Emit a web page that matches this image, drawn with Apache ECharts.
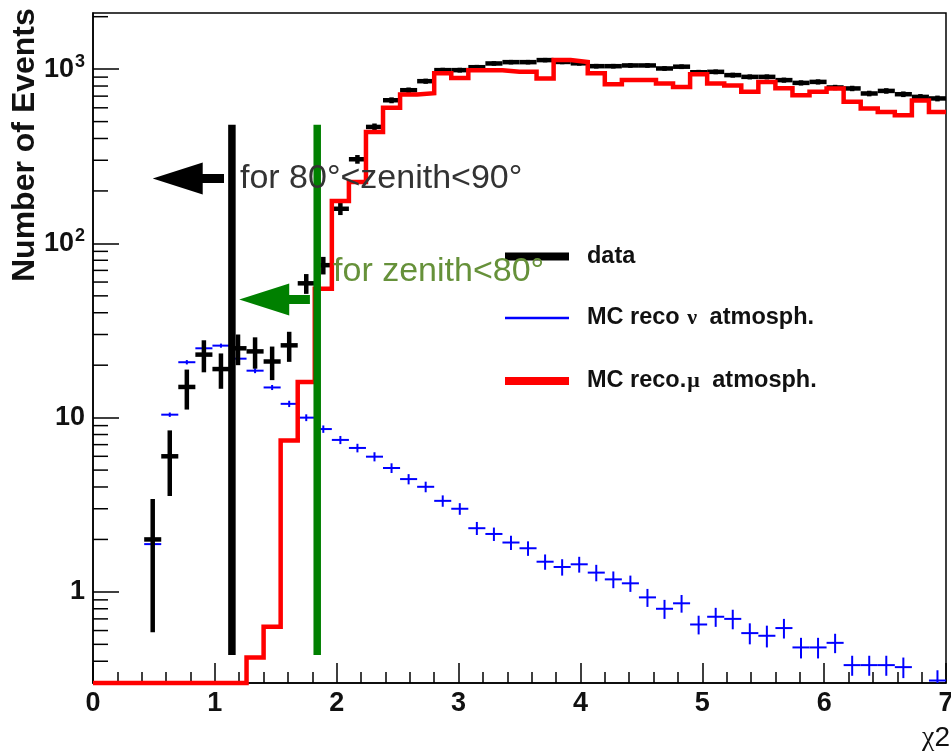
<!DOCTYPE html>
<html>
<head>
<meta charset="utf-8">
<script src="https://cdn.jsdelivr.net/npm/echarts@6/dist/echarts.min.js"></script>
<style>
html, body { margin: 0; padding: 0; background: #fff; }
#chart { width: 951px; height: 753px; }
</style>
</head>
<body>
<div id="chart"></div>
<script>
// Histogram binning: 50 bins of width 0.14 over chi2 in [0, 7]
const X_MIN = 0, X_MAX = 7, BIN_WIDTH = 0.14;
const Y_MIN = 0.3, Y_MAX = 2100;

// Observed events per bin
const dataCounts = [0, 0, 0, 2, 6, 15, 23, 19, 25, 24,
  21, 26, 59, 75, 158, 304, 466, 663, 757, 853,
  987, 987, 1026, 1078, 1097, 1097, 1127, 1100, 1080, 1040,
  1040, 1050, 1050, 1009, 1033, 960, 965, 924, 903, 903,
  865, 834, 845, 785, 775, 725, 750, 718, 693, 679];

// MC reconstructed atmospheric neutrinos per bin, with MC errors
const nuCounts = [0, 0, 0, 1.88, 10.4, 20.8, 25, 25.9, 21.8, 18.6,
  14.9, 12, 10, 8.6, 7.45, 6.7, 5.97, 5.14, 4.44, 4.01,
  3.33, 3.0, 2.32, 2.15, 1.92, 1.78, 1.49, 1.39, 1.44, 1.29,
  1.18, 1.12, 0.93, 0.80, 0.86, 0.65, 0.72, 0.70, 0.58, 0.56,
  0.62, 0.48, 0.48, 0.51, 0.38, 0.38, 0.38, 0.37, 0, 0.31];
const nuErrors = [0, 0, 0, 0.08, 0.3, 0.6, 0.7, 0.7, 0.6, 0.6,
  0.5, 0.5, 0.45, 0.42, 0.4, 0.38, 0.36, 0.33, 0.3, 0.28,
  0.25, 0.23, 0.2, 0.19, 0.18, 0.17, 0.15, 0.15, 0.15, 0.14,
  0.13, 0.12, 0.11, 0.1, 0.1, 0.08, 0.09, 0.09, 0.08, 0.08,
  0.08, 0.065, 0.065, 0.065, 0.05, 0.05, 0.05, 0.05, 0, 0.045];

// MC reconstructed atmospheric muons per bin
const muCounts = [0, 0, 0, 0, 0, 0, 0, 0, 0, 0.42,
  0.63, 7.4, 16, 55, 175, 225, 436, 600, 715, 728,
  948, 891, 985, 985, 965, 965, 885, 1127, 1100, 948,
  820, 865, 865, 828, 791, 936, 828, 805, 741, 845,
  778, 709, 741, 775, 649, 594, 568, 544, 660, 568];

// Log-axis tick values
const yMajorTicks = [1, 10, 100, 1000];
const yMajorLabels = ['1', '10', '10{sup|2}', '10{sup|3}'];
const yMinorTicks = [0.4, 0.5, 0.6, 0.7, 0.8, 0.9,
  2, 3, 4, 5, 6, 7, 8, 9,
  20, 30, 40, 50, 60, 70, 80, 90,
  200, 300, 400, 500, 600, 700, 800, 900, 2000];

// Zenith-dependent chi2 cuts: [chi2 cut, line bottom, line top]
const cutLines = [[1.14, 0.435, 480], [1.84, 0.435, 480]];
// Arrows: [tip chi2, tail chi2, height]
const cutArrows = [[0.49, 1.075, 236], [1.2, 1.78, 47.7]];
// Cut captions: [chi2, height]
const cutCaptions = [[1.206, 236], [1.97, 69]];
const cutCaptionTexts = ['for 80°<zenith<90°', 'for zenith<80°'];

const SERIES_DATA = 'data';
const SERIES_NU = 'MC reco ν atmosph.';
const SERIES_MU = 'MC reco.μ atmosph.';

const FONT = '"Liberation Sans", Arial, Helvetica, sans-serif';
const cutColors = ['#000000', '#008000'];
const captionColors = ['#333333', '#66913a'];

const binCenters = dataCounts.map((_, i) => +(X_MIN + (i + 0.5) * BIN_WIDTH).toFixed(4));

function crossSeries(name, counts, errors, color, width, z) {
  return {
    type: 'custom',
    name: name,
    z: z,
    itemStyle: { color: color },
    data: counts.map((v, i) => [binCenters[i], v, errors[i]]).filter(d => d[1] > 0),
    renderItem: function (params, api) {
      const xc = api.value(0), v = api.value(1), e = api.value(2);
      const left = api.coord([xc - BIN_WIDTH / 2, v]);
      const right = api.coord([xc + BIN_WIDTH / 2, v]);
      const top = api.coord([xc, v + e]);
      const bottom = api.coord([xc, Math.max(v - e, Y_MIN)]);
      return {
        type: 'group',
        children: [
          { type: 'line', shape: { x1: left[0], y1: left[1], x2: right[0], y2: right[1] },
            style: { stroke: color, lineWidth: width } },
          { type: 'line', shape: { x1: top[0], y1: top[1], x2: bottom[0], y2: bottom[1] },
            style: { stroke: color, lineWidth: width } }
        ]
      };
    }
  };
}

// Poisson errors on the observed counts
const dataErrors = dataCounts.map(n => Math.sqrt(n));

// Step outline of the muon histogram (bins at zero sit on the frame)
const muStep = muCounts.map((v, i) => [+(X_MIN + i * BIN_WIDTH).toFixed(4), Math.max(v, Y_MIN)]);
muStep.push([X_MAX, Math.max(muCounts[muCounts.length - 1], Y_MIN)]);

const LEGEND_LINE = 24;
function legendBlock(name, center, height) {
  return {
    data: [name],
    left: 505,
    top: center - LEGEND_LINE / 2,
    orient: 'vertical',
    icon: 'rect',
    itemWidth: 64,
    itemHeight: height,
    selectedMode: false,
    padding: 0,
    formatter: function (n) {
      return n.replace('ν', '{g|ν}').replace('μ', '{g|μ}');
    },
    textStyle: {
      fontFamily: FONT, fontSize: 23.5, fontWeight: 'bold', color: '#111',
      lineHeight: LEGEND_LINE,
      padding: [0, 0, 0, 13],
      rich: { g: { fontFamily: '"Liberation Serif", "DejaVu Serif", serif', fontSize: 22, lineHeight: LEGEND_LINE,
        color: '#111', padding: [0, 6, 0, 1] } }
    }
  };
}

const chart = echarts.init(document.getElementById('chart'), null, { renderer: 'canvas' });

chart.setOption({
  animation: false,
  backgroundColor: '#ffffff',
  grid: { left: 93, right: 5, top: 13, bottom: 70, outerBoundsMode: 'none', containLabel: false,
    show: true, borderColor: '#000', borderWidth: 1.5, backgroundColor: 'transparent' },
  legend: [
    legendBlock(SERIES_DATA, 256.5, 8),
    legendBlock(SERIES_NU, 318, 2.5),
    legendBlock(SERIES_MU, 381, 8)
  ],
  xAxis: {
    type: 'value', min: X_MIN, max: X_MAX, interval: 1,
    axisLine: { show: true, onZero: false, lineStyle: { color: '#000', width: 1.5 } },
    axisTick: { show: true, inside: true, length: 20, lineStyle: { color: '#000', width: 1.5 } },
    minorTick: { show: true, splitNumber: 5, length: 11, lineStyle: { color: '#000', width: 1.5 } },
    splitLine: { show: false },
    axisLabel: { margin: 7, fontFamily: FONT, fontSize: 27, fontWeight: 'bold', color: '#111' }
  },
  yAxis: {
    type: 'log', logBase: 10, min: Y_MIN, max: Y_MAX,
    axisLine: { show: true, lineStyle: { color: '#000', width: 1.5 } },
    axisTick: { show: true, inside: true, length: 26, lineStyle: { color: '#000', width: 1.5 } },
    splitLine: { show: false },
    axisLabel: {
      margin: 8, fontFamily: FONT, fontSize: 27, fontWeight: 'bold', color: '#111',
      showMinLabel: false, showMaxLabel: false,
      formatter: function (value) {
        for (let i = 0; i < yMajorTicks.length; i++) {
          if (Math.abs(value - yMajorTicks[i]) < 1e-6 * yMajorTicks[i]) return yMajorLabels[i];
        }
        return '';
      },
      rich: {
        sup: { fontFamily: FONT, fontSize: 18, fontWeight: 'bold', color: '#111', verticalAlign: 'top', padding: [0, 0, 14, 1] }
      }
    }
  },
  graphic: [
    { type: 'text', x: 25, y: 282, rotation: Math.PI / 2,
      style: { text: 'Number of Events', fill: '#111', font: 'bold 32px ' + FONT, align: 'left', verticalAlign: 'middle' } },
    { type: 'text', x: 950, y: 738,
      style: { text: '{g|χ}2', fill: '#111', font: '28px ' + FONT, align: 'right', verticalAlign: 'middle',
        rich: { g: { fontFamily: '"Liberation Serif", serif', fontSize: 28, fill: '#111' } } } }
  ],
  series: [
    crossSeries(SERIES_NU, nuCounts, nuErrors, '#0000ff', 2, 2),
    crossSeries(SERIES_DATA, dataCounts, dataErrors, '#000000', 4.5, 3),
    {
      type: 'line', name: SERIES_MU, z: 4, step: 'end', clip: false,
      data: muStep, showSymbol: false, symbol: 'none',
      color: '#ff0000',
      lineStyle: { color: '#ff0000', width: 4.5, join: 'miter' }
    },
    {
      type: 'custom', name: 'cuts', z: 5, clip: false,
      data: cutLines,
      renderItem: function (params, api) {
        const a = api.coord([api.value(0), api.value(1)]);
        const b = api.coord([api.value(0), api.value(2)]);
        return { type: 'line', shape: { x1: a[0], y1: a[1], x2: b[0], y2: b[1] },
          style: { stroke: cutColors[params.dataIndex], lineWidth: 7.5 } };
      }
    },
    {
      type: 'custom', name: 'arrows', z: 5, clip: false,
      data: cutArrows,
      renderItem: function (params, api) {
        const tip = api.coord([api.value(0), api.value(2)]);
        const tail = api.coord([api.value(1), api.value(2)]);
        const headLen = 50, headHalf = 16, shaftHalf = 4.5;
        const bx = tip[0] + headLen, y = tip[1];
        return {
          type: 'polygon',
          shape: { points: [[tip[0], y], [bx, y - headHalf], [bx, y - shaftHalf], [tail[0], y - shaftHalf],
            [tail[0], y + shaftHalf], [bx, y + shaftHalf], [bx, y + headHalf]] },
          style: { fill: cutColors[params.dataIndex] }
        };
      }
    },
    {
      type: 'custom', name: 'captions', z: 6, clip: false,
      data: cutCaptions,
      renderItem: function (params, api) {
        const p = api.coord([api.value(0), api.value(1)]);
        return {
          type: 'text', x: p[0], y: p[1],
          style: { text: cutCaptionTexts[params.dataIndex], font: '34px ' + FONT,
            fill: captionColors[params.dataIndex], align: 'left', verticalAlign: 'middle',
            shadowColor: '#000', shadowOffsetX: -1.5, shadowOffsetY: 1.5, shadowBlur: 0.5 }
        };
      }
    },
    {
      type: 'custom', name: 'minorTicks', z: 7, clip: false,
      data: yMinorTicks.map(v => [X_MIN, v]),
      renderItem: function (params, api) {
        const p = api.coord([api.value(0), api.value(1)]);
        return { type: 'line', shape: { x1: p[0], y1: p[1], x2: p[0] + 15, y2: p[1] },
          style: { stroke: '#000', lineWidth: 1.5 } };
      }
    }
  ]
});
</script>
</body>
</html>
